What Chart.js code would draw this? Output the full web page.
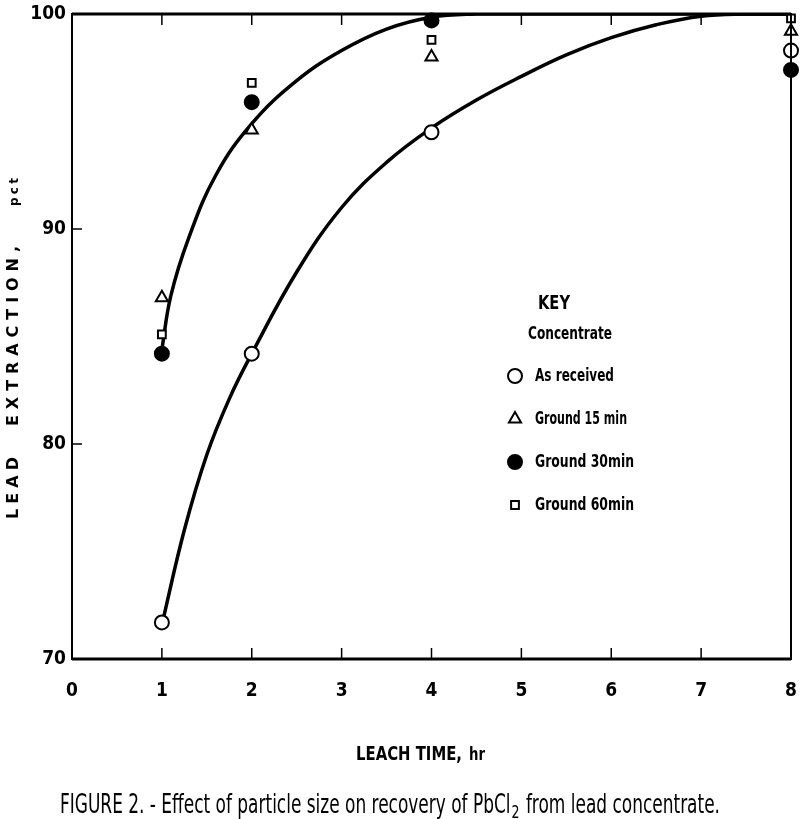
<!DOCTYPE html>
<html>
<head>
<meta charset="utf-8">
<script src="https://cdn.jsdelivr.net/npm/chart.js@4"></script>
<style>
  html, body { margin: 0; padding: 0; background: #fff; }
  #wrap { width: 800px; height: 819px; }
</style>
</head>
<body>
<div id="wrap"><canvas id="leadChart" width="800" height="819"></canvas></div>
<script>
// measured points (leach time, hr / lead extraction, pct)
const hours = [1, 2, 4, 8];
const asReceived = [71.7, 84.2, 94.5, 98.3];
const ground15 = [86.8, 94.6, 98.0, 99.2];
const ground30 = [84.2, 95.9, 99.7, 97.4];
const ground60 = [85.1, 96.8, 98.8, 99.8];

// hand-drawn curves
const lowerCurveX = [1, 1.25, 1.5, 1.75, 2, 2.5, 3, 3.5, 4, 4.5, 5, 5.5, 6, 6.5, 7, 7.5, 8];
const lowerCurveY = [71.6, 76.0, 79.5, 82.1, 84.2, 88.0, 91.0, 93.1, 94.7, 96.0, 97.1, 98.1, 98.9, 99.5, 99.9, 100, 100];
const upperCurveX = [1, 1.1, 1.3, 1.6, 2, 2.5, 3, 3.5, 4, 4.5, 5, 8];
const upperCurveY = [84.4, 86.9, 89.6, 92.5, 94.9, 96.9, 98.3, 99.3, 99.85, 100, 100, 100];

const xTicks = [0, 1, 2, 3, 4, 5, 6, 7, 8];
const yTicks = [70, 80, 90, 100];

const keyLabels = ["As received", "Ground 15 min", "Ground 30min", "Ground 60min"];

const condensed = '"DejaVu Sans Condensed", "Liberation Sans Narrow", "DejaVu Sans", sans-serif';

function pts(xs, ys) {
  return xs.map((x, i) => ({ x: x, y: ys[i] }));
}

// draw text squeezed horizontally to a given width (the original uses a narrow face)
function fitText(ctx, text, x, y, font, width) {
  ctx.save();
  ctx.font = font;
  const w = ctx.measureText(text).width;
  ctx.translate(x, y);
  ctx.scale(width / w, 1);
  ctx.textAlign = "left";
  ctx.fillText(text, 0, 0);
  ctx.restore();
}

// draw text spread out with letter spacing to fill a given length
function spreadText(ctx, text, x, y, font, length) {
  ctx.save();
  ctx.font = font;
  ctx.letterSpacing = "0px";
  const w = ctx.measureText(text).width;
  const gap = (length - w) / (text.length - 1);
  ctx.letterSpacing = gap + "px";
  ctx.textAlign = "left";
  ctx.fillText(text, x, y);
  ctx.restore();
}

const markerBase = {
  showLine: false,
  borderColor: "#000",
  borderWidth: 2,
  order: 1,
  clip: false,
};

// frame, inward ticks, key and titles
const framePlugin = {
  id: "frame",
  afterDraw(chart) {
    const ctx = chart.ctx;
    const a = chart.chartArea;
    const xs = chart.scales.x;
    const ys = chart.scales.y;
    ctx.save();
    ctx.strokeStyle = "#000";
    ctx.lineWidth = 3;
    ctx.beginPath();
    ctx.moveTo(a.left, a.bottom);
    ctx.lineTo(a.right, a.bottom);
    ctx.moveTo(a.left, a.top);
    ctx.lineTo(a.right, a.top);
    ctx.stroke();
    ctx.lineWidth = 2;
    ctx.beginPath();
    ctx.moveTo(a.left, a.top - 1);
    ctx.lineTo(a.left, a.bottom + 1);
    ctx.moveTo(a.right, a.top - 1);
    ctx.lineTo(a.right, a.bottom + 1);
    ctx.stroke();
    ctx.lineWidth = 1.5;
    ctx.beginPath();
    for (let i = 1; i < xTicks.length - 1; i++) {
      const px = xs.getPixelForValue(xTicks[i]);
      ctx.moveTo(px, a.bottom);
      ctx.lineTo(px, a.bottom - 11);
      ctx.moveTo(px, a.top);
      ctx.lineTo(px, a.top + 11);
    }
    for (let i = 1; i < yTicks.length - 1; i++) {
      const py = ys.getPixelForValue(yTicks[i]);
      ctx.moveTo(a.left, py);
      ctx.lineTo(a.left + 10, py);
    }
    ctx.stroke();

    // key
    ctx.fillStyle = "#000";
    ctx.textBaseline = "middle";
    fitText(ctx, "KEY", 538, 304, "bold 19px " + condensed, 32);
    fitText(ctx, "Concentrate", 528, 334, "bold 18px " + condensed, 84);
    const rows = [376, 419, 462, 505];
    const widths = [79, 92, 99, 99];
    const markerSets = chart.data.datasets.filter(d => d.keyMarker);
    markerSets.forEach((d, i) => {
      ctx.fillStyle = d.pointBackgroundColor;
      ctx.strokeStyle = "#000";
      ctx.lineWidth = 2;
      Chart.helpers.drawPoint(ctx, {
        pointStyle: d.pointStyle,
        radius: d.pointRadius,
        borderWidth: 2,
        rotation: 0,
      }, 515, rows[i]);
      ctx.fillStyle = "#000";
      fitText(ctx, keyLabels[i], 535, rows[i], "bold 18px " + condensed, widths[i]);
    });

    // x axis title
    ctx.textBaseline = "alphabetic";
    fitText(ctx, "LEACH TIME,", 356, 760, "bold 19px " + condensed, 106);
    fitText(ctx, "hr", 469, 760, "bold 18px " + condensed, 16);

    // y axis title, rotated
    ctx.save();
    ctx.translate(18, 0);
    ctx.rotate(-Math.PI / 2);
    ctx.textBaseline = "alphabetic";
    spreadText(ctx, "LEAD", -519, 0, "bold 16px DejaVu Sans, sans-serif", 62);
    spreadText(ctx, "EXTRACTION,", -426, 0, "bold 16px DejaVu Sans, sans-serif", 180);
    spreadText(ctx, "pct", -206, 0, "bold 12px DejaVu Sans, sans-serif", 28);
    ctx.restore();

    // caption
    ctx.textBaseline = "alphabetic";
    const cap1 = "FIGURE 2. - Effect of particle size on recovery of PbCl";
    const cap2 = " from lead concentrate.";
    const capFont = "27px " + condensed;
    ctx.font = capFont;
    const w1 = ctx.measureText(cap1).width;
    const w2 = ctx.measureText(cap2).width;
    const sx = 650 / (w1 + w2);
    fitText(ctx, cap1, 60, 813, capFont, w1 * sx);
    fitText(ctx, "2", 60 + w1 * sx + 1, 818, "17px " + condensed, 8);
    fitText(ctx, cap2, 60 + w1 * sx + 10, 813, capFont, w2 * sx);
    ctx.restore();
  },
};

const ctx = document.getElementById("leadChart").getContext("2d");
const leadChart = new Chart(ctx, {
  type: "scatter",
  data: {
    datasets: [
      {
        label: "As received",
        data: pts(hours, asReceived),
        pointStyle: "circle",
        pointRadius: 7,
        pointBackgroundColor: "#fff",
        keyMarker: true,
        ...markerBase,
      },
      {
        label: "Ground 15 min",
        data: pts(hours, ground15),
        pointStyle: "triangle",
        pointRadius: 7,
        pointBackgroundColor: "#fff",
        keyMarker: true,
        ...markerBase,
      },
      {
        label: "Ground 30min",
        data: pts(hours, ground30),
        pointStyle: "circle",
        pointRadius: 7,
        pointBackgroundColor: "#000",
        keyMarker: true,
        ...markerBase,
      },
      {
        label: "Ground 60min",
        data: pts(hours, ground60),
        pointStyle: "rect",
        pointRadius: 5.5,
        pointBackgroundColor: "#fff",
        keyMarker: true,
        ...markerBase,
      },
      {
        label: "As received curve",
        data: pts(lowerCurveX, lowerCurveY),
        showLine: true,
        pointRadius: 0,
        borderColor: "#000",
        borderWidth: 3.5,
        tension: 0.4,
        order: 2,
      },
      {
        label: "Ground curve",
        data: pts(upperCurveX, upperCurveY),
        showLine: true,
        pointRadius: 0,
        borderColor: "#000",
        borderWidth: 3.5,
        tension: 0.4,
        order: 2,
      },
    ],
  },
  options: {
    responsive: false,
    animation: false,
    layout: { padding: { top: 14, right: 5, left: 0, bottom: 0 } },
    plugins: {
      legend: { display: false },
      tooltip: { enabled: false },
    },
    scales: {
      x: {
        type: "linear",
        min: 0,
        max: 8,
        afterFit(scale) {
          scale.height = 160;
          scale.paddingLeft = 0;
          scale.paddingRight = 0;
        },
        afterBuildTicks(scale) { scale.ticks = xTicks.map(v => ({ value: v })); },
        grid: { display: false, drawTicks: false },
        border: { display: false },
        ticks: {
          color: "#000",
          padding: 21,
          maxRotation: 0,
          font: { family: condensed, size: 19, weight: "bold" },
        },
      },
      y: {
        min: 70,
        max: 100,
        afterFit(scale) {
          scale.width = 72;
          scale.paddingTop = 0;
          scale.paddingBottom = 0;
        },
        afterBuildTicks(scale) { scale.ticks = yTicks.map(v => ({ value: v })); },
        grid: { display: false, drawTicks: false },
        border: { display: false },
        ticks: {
          color: "#000",
          padding: 6,
          font: { family: condensed, size: 19, weight: "bold" },
        },
      },
    },
  },
  plugins: [framePlugin],
});
</script>
</body>
</html>
